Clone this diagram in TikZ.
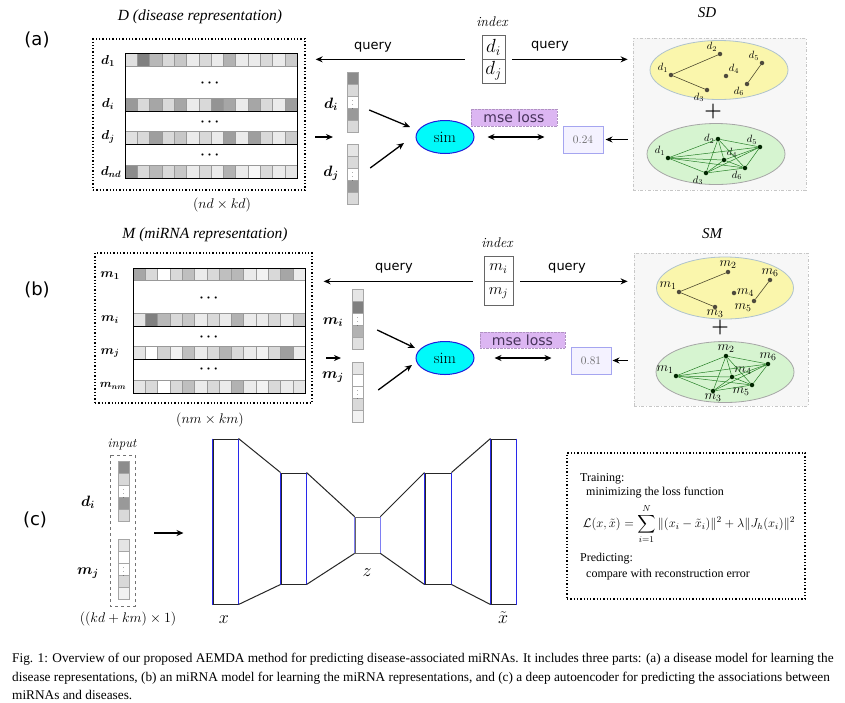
\RequirePackage{fix-cm}
\documentclass[tikz,border=0pt]{standalone}
\usepackage{amsmath,amssymb}
\usepackage{bm}
\usepackage{fontspec}
\newfontfamily\sansf{DejaVu Sans}
\newfontfamily\timesf{Liberation Serif}
\usetikzlibrary{arrows.meta,shapes.geometric}

\definecolor{simfill}{RGB}{0,250,250}
\definecolor{simdraw}{RGB}{30,30,220}
\definecolor{msefill}{RGB}{220,182,242}
\definecolor{msetext}{RGB}{70,50,90}
\definecolor{valfill}{RGB}{244,242,255}
\definecolor{valdraw}{RGB}{165,165,240}
\definecolor{ylwfill}{RGB}{250,246,172}
\definecolor{grnfill}{RGB}{214,244,208}
\definecolor{ellborder}{RGB}{175,195,205}
\definecolor{aeblue}{RGB}{40,40,235}

% one row of a representation matrix (14 cells)
\newcommand{\cellrow}[3]{%
  \foreach \g [count=\k from 0] in {#3}
    \filldraw[fill=black!\g, draw=black!40, line width=0.4pt]
      (#1+\k*12.29, #2) rectangle ++(12.29, 12.5);
}
% a column vector of five cells, the middle one with dots
\newcommand{\vecstack}[4]{%
  \foreach \g [count=\k from 0] in {#4}
    \filldraw[fill=black!\g, draw=black!35, line width=0.4pt]
      (#2-5.5, #3+\k*12) rectangle ++(11, 12);
  \node[inner sep=0, minimum width=11, minimum height=60,
        font=\fontsize{7}{7}\selectfont] (#1) at (#2, #3+30) {$\vdots$};
}

\begin{document}
\begin{tikzpicture}[x=1pt, y=-1pt,
  arr/.style={-{Stealth[length=7pt,width=6pt]}, line width=1.3pt},
  dbl/.style={{Stealth[length=7pt,width=6pt]}-{Stealth[length=7pt,width=6pt]}, line width=1.3pt},
  panel/.style={font=\sansf\fontsize{18}{20}\selectfont},
  title/.style={font=\timesf\itshape\fontsize{15.5}{17}\selectfont},
  qry/.style={font=\sansf\fontsize{13}{15}\selectfont},
  dotbox/.style={draw, dotted, line width=1.3pt, inner sep=0},
  rowlbl/.style={font=\fontsize{13}{14}\selectfont},
  veclbl/.style={font=\fontsize{15}{17}\selectfont},
  dimlbl/.style={font=\fontsize{14}{16}\selectfont},
  idx/.style={draw=black!60, line width=0.7pt, minimum width=23, minimum height=24,
              inner sep=0, font=\fontsize{19}{20}\selectfont},
  idxlbl/.style={font=\itshape\fontsize{14}{16}\selectfont},
  simnode/.style={ellipse, fill=simfill, draw=simdraw, line width=1pt,
                  minimum width=58, minimum height=33, inner sep=0,
                  font=\fontsize{16}{17}\selectfont},
  mse/.style={fill=msefill, draw=msefill!80!black, densely dotted, inner sep=0,
              minimum width=86, minimum height=17, text=msetext,
              font=\sansf\fontsize{14}{16}\selectfont},
  valbox/.style={fill=valfill, draw=valdraw, line width=1pt, minimum width=40,
                 minimum height=27, inner sep=0, text=black!60,
                 font=\fontsize{11.5}{13}\selectfont},
  simbox/.style={fill=black!3, draw=black!22, dash dot, line width=0.8pt, inner sep=0},
  ylw/.style={ellipse, fill=ylwfill, draw=ellborder, line width=0.8pt, inner sep=0},
  grn/.style={ellipse, fill=grnfill, draw=black!35, line width=0.8pt, inner sep=0},
  gdot/.style={circle, fill=black!80!yellow, inner sep=0, minimum size=4.5},
  gdotg/.style={circle, fill=black!85!green, inner sep=0, minimum size=4.5},
  dlbl/.style={font=\fontsize{10.5}{12}\selectfont, inner sep=1pt},
  mlbl/.style={font=\fontsize{13.5}{14}\selectfont, inner sep=0.5pt},
  yedge/.style={draw=black!60!olive, line width=0.6pt},
  gedge/.style={draw=black!50!green!70!gray, line width=0.5pt},
  plussign/.style={font=\bfseries\fontsize{20}{20}\selectfont},
  aelayer/.style={draw=black!85, line width=1pt, inner sep=0},
  aelbl/.style={font=\fontsize{18}{19}\selectfont},
  txt/.style={font=\timesf\fontsize{12}{14}\selectfont, anchor=base west, inner sep=0},
  captxt/.style={font=\timesf\fontsize{13.3}{14}\selectfont, anchor=base west, inner sep=0},
]
\useasboundingbox (0,0) rectangle (845,702);
\fill[white] (0,0) rectangle (845,702);

% ---------------- (a) disease model
\node[panel] (pa) at (37,40) {(a)};
\node[title] (ta) at (200,17) {D (disease representation)};
\node[dotbox, minimum width=212, minimum height=151] (Dbox) at (199,114.5) {};
\cellrow{125}{53.5}{12,50,28,15,22,8,15,8,30,8,8,15,8,20}
\cellrow{125}{98.5}{40,15,35,15,35,8,15,42,35,8,35,15,8,38}
\cellrow{125}{131.5}{12,15,38,15,22,8,15,8,38,8,38,15,8,20}
\cellrow{125}{165.5}{45,15,28,15,22,8,15,8,30,8,3,15,8,10}
\draw[line width=0.9pt] (125,53.5) rectangle (297,178);
\draw[line width=0.9pt] (125,111) -- (297,111) (125,144) -- (297,144);
\foreach \y in {83,122,155}
  \node[font=\fontsize{14}{14}\selectfont] at (211,\y) {$\bm{\cdots}$};
\node[rowlbl] (d1) at (108,61) {$\bm{d_1}$};
\node[rowlbl] (di) at (108,104) {$\bm{d_i}$};
\node[rowlbl] (dj) at (108,137) {$\bm{d_j}$};
\node[rowlbl] (dnd) at (111,172) {$\bm{d_{nd}}$};
\node[dimlbl] (dima) at (222,205) {$(nd\times kd)$};

\node[idxlbl] (ixa) at (492,22) {index};
\node[idx] (ia1) at (493.5,47) {$d_i$};
\node[idx] (ia2) at (493.5,71) {$d_j$};
\node[qry] (qa1) at (373,47) {query};
\node[qry] (qa2) at (550,46) {query};

\vecstack{vdi}{352.5}{72}{45,15,0,40,15}
\vecstack{vdj}{352.5}{144}{10,15,0,40,15}
\node[veclbl] (ldi) at (331,104) {$\bm{d_i}$};
\node[veclbl] (ldj) at (331,173) {$\bm{d_j}$};

\node[simnode] (sima) at (445,137) {sim};
\node[mse] (msea) at (514,117.5) {mse loss};
\node[valbox] (vala) at (583,139.5) {0.24};

% SD graphs
\node[font=\timesf\itshape\fontsize{15}{17}\selectfont] (tsd) at (707,13) {SD};
\node[simbox, minimum width=173, minimum height=152] (SDbox) at (719.5,114) {};
\node[ylw, minimum width=138, minimum height=59] (ya) at (719,70) {};
\node[grn, minimum width=138, minimum height=61] (ga) at (716,154) {};
\node[plussign] (plusa) at (713,112) {+};
\foreach \n/\x/\y/\p in {1/671/75/above left, 2/720/54/above left, 3/707/90/below left,
                         4/726/76/above right, 5/762/63/above left, 6/747/84/below left}
  \node[gdot, label={[dlbl]\p:$d_{\n}$}] (ya\n) at (\x,\y) {};
\draw[yedge] (ya1) -- (ya2) (ya1) -- (ya3) (ya5) -- (ya6);
\foreach \n/\x/\y/\p in {1/668/158/above left, 2/718/139/left, 3/706/173/below left,
                         4/724/160/above right, 5/760/147/above left, 6/745/168/below left}
  \node[gdotg, label={[dlbl]\p:$d_{\n}$}] (ga\n) at (\x,\y) {};
\foreach \a in {1,...,5} {
  \pgfmathtruncatemacro\s{\a+1}
  \foreach \b in {\s,...,6}
    \draw[gedge] (ga\a) -- (ga\b);
}

% connectors (a)
\draw[arr, shorten <=17pt, shorten >=10pt] (ia1.south west) -- (ia1.south west -| Dbox.east);
\draw[arr, shorten <=7pt, shorten >=5pt] (ia1.south east) -- (ia1.south east -| SDbox.west);
\coordinate (fa) at (315,137);
\draw[arr] (fa) -- ++(18,0);
\draw[arr] ([shift={(11,8)}]vdi.east) -- ([shift={(-35,-10)}]sima.center);
\draw[arr] ([shift={(12,-6)}]vdj.east) -- ([shift={(-41,6)}]sima.center);
\draw[dbl, shorten <=13pt, shorten >=18pt] (sima.east) -- (sima.east -| vala.west);
\draw[arr, shorten <=5pt, shorten >=2pt] (vala.east -| SDbox.west) -- (vala.east);

% ---------------- (b) miRNA model
\node[panel] (pb) at (37,290) {(b)};
\node[title] (tb) at (205,235) {M (miRNA representation)};
\node[dotbox, minimum width=217, minimum height=150] (Mbox) at (203.5,328) {};
\cellrow{133}{268}{35,15,0,15,25,8,15,25,28,8,5,15,35,8}
\cellrow{133}{313.5}{10,50,28,15,22,8,15,8,30,8,8,15,8,20}
\cellrow{133}{346.5}{10,0,18,5,25,8,15,30,15,8,5,15,38,8}
\cellrow{133}{380.5}{10,15,0,15,25,8,15,8,30,8,5,15,8,10}
\draw[line width=0.9pt] (133,268) rectangle (305,393);
\draw[line width=0.9pt] (133,326) -- (305,326) (133,359) -- (305,359);
\foreach \y in {298,337,369}
  \node[font=\fontsize{14}{14}\selectfont] at (210,\y) {$\bm{\cdots}$};
\node[rowlbl] (m1) at (110,276) {$\bm{m_1}$};
\node[rowlbl] (mi) at (110,320) {$\bm{m_i}$};
\node[rowlbl] (mj) at (110,353) {$\bm{m_j}$};
\node[rowlbl, font=\fontsize{11.5}{12}\selectfont] (mnm) at (113,386) {$\bm{m_{nm}}$};
\node[dimlbl] (dimb) at (210,420) {$(nm\times km)$};

\node[idxlbl] (ixb) at (497,243) {index};
\node[idx, minimum width=29, minimum height=25, font=\fontsize{16}{18}\selectfont] (ib1) at (498.5,268.5) {$m_i$};
\node[idx, minimum width=29, minimum height=24, font=\fontsize{16}{18}\selectfont] (ib2) at (498.5,293) {$m_j$};
\node[qry] (qb1) at (394,268) {query};
\node[qry] (qb2) at (567,268) {query};

\vecstack{vmi}{357.5}{289}{10,50,0,30,12}
\vecstack{vmj}{357.5}{362}{10,0,0,15,5}
\node[veclbl] (lmi) at (333,322) {$\bm{m_i}$};
\node[veclbl] (lmj) at (333,377) {$\bm{m_j}$};

\node[simnode] (simb) at (445,358) {sim};
\node[mse, minimum width=85, minimum height=16] (mseb) at (522.5,340) {mse loss};
\node[valbox] (valb) at (591,360.5) {0.81};

% SM graphs
\node[font=\timesf\itshape\fontsize{15}{17}\selectfont] (tsm) at (712,234) {SM};
\node[simbox, minimum width=174, minimum height=153] (SMbox) at (721,329.5) {};
\node[ylw, minimum width=137, minimum height=62] (yb) at (725,288) {};
\node[grn, minimum width=138, minimum height=61] (gb) at (725,372) {};
\node[plussign] (plusb) at (720,328) {+};
\foreach \n/\x/\y/\p in {1/679/292/above left, 2/728/272/above, 3/715/307/below,
                         4/734/293/right, 5/754/301/below left, 6/770/280/above}
  \node[gdot, label={[mlbl]\p:$m_{\n}$}] (yb\n) at (\x,\y) {};
\draw[yedge] (yb1) -- (yb2) (yb1) -- (yb3) (yb5) -- (yb6);
\foreach \n/\x/\y/\p in {1/676/376/above left, 2/726/356/above, 3/713/391/below,
                         4/732/377/above right, 5/752/385/below left, 6/768/364/above}
  \node[gdotg, label={[mlbl]\p:$m_{\n}$}] (gb\n) at (\x,\y) {};
\foreach \a in {1,...,5} {
  \pgfmathtruncatemacro\s{\a+1}
  \foreach \b in {\s,...,6}
    \draw[gedge] (gb\a) -- (gb\b);
}

% connectors (b)
\draw[arr, shorten <=11pt, shorten >=11pt] (ib1.south west) -- (ib1.south west -| Mbox.east);
\draw[arr, shorten <=7pt, shorten >=6pt] (ib1.south east) -- (ib1.south east -| SMbox.west);
\coordinate (fb) at (326,358);
\draw[arr] (fb) -- ++(15,0);
\draw[arr] ([shift={(14,11)}]vmi.east) -- ([shift={(-30,-10)}]simb.center);
\draw[arr] ([shift={(15,-2)}]vmj.east) -- ([shift={(-33,7)}]simb.center);
\draw[dbl, shorten <=20pt, shorten >=19pt] (simb.east) -- (simb.east -| valb.west);
\draw[arr, shorten <=6pt, shorten >=1pt] (valb.east -| SMbox.west) -- (valb.east);

% ---------------- (c) autoencoder
\node[panel] (pc) at (35,520) {(c)};
\node[font=\itshape\fontsize{13}{15}\selectfont] (tin) at (122,445) {input};
\draw[black!55, dashed, line width=0.8pt] (110,455) rectangle (135,606);
\coordinate (inE) at (135,533);
\vecstack{cdi}{123.5}{461}{45,15,0,40,15}
\vecstack{cmj}{123.5}{539}{10,0,0,15,5}
\node[veclbl] (lci) at (88,502) {$\bm{d_i}$};
\node[veclbl] (lcj) at (88,573) {$\bm{m_j}$};
\node[dimlbl] (dimc) at (128,619) {$((kd+km)\times 1)$};

\node[aelayer, minimum width=25, minimum height=165] (L1) at (225.5,521.5) {};
\node[aelayer, minimum width=25, minimum height=111] (L2) at (293.5,528.5) {};
\node[aelayer, draw=black!60, line width=0.7pt, minimum width=25, minimum height=36] (Z) at (367.5,535) {};
\node[aelayer, minimum width=26, minimum height=111] (L3) at (438,528.5) {};
\node[aelayer, minimum width=25, minimum height=165] (L4) at (503.5,521.5) {};
\foreach \l in {L1,L2,L4,L3}
  \draw[aeblue, line width=1.1pt] (\l.north west) -- (\l.south west)
                                  (\l.north east) -- (\l.south east);
\draw[aeblue!60, line width=0.6pt] (Z.north west) -- (Z.south west) (Z.north east) -- (Z.south east);
\draw[line width=1pt, black!85] (L1.north east) -- (L2.north west) (L1.south east) -- (L2.south west)
  (L2.north east) -- (Z.north west) (L2.south east) -- (Z.south west)
  (Z.north east) -- (L3.north west) (Z.south east) -- (L3.south west)
  (L3.north east) -- (L4.north west) (L3.south east) -- (L4.south west);
\draw[arr, shorten <=19pt, shorten >=29pt] (inE) -- (inE -| L1.west);
\node[aelbl] (lx) at (224,620) {$x$};
\node[aelbl] (lz) at (367,573) {$z$};
\node[aelbl] (lxt) at (503,618) {$\tilde{x}$};

\node[dotbox, minimum width=238, minimum height=146] (tbox) at (686,526) {};
\node[txt] (t1) at (580,481) {Training:};
\node[txt] (t2) at (586,495) {minimizing the loss function};
\node[font=\fontsize{12.6}{13}\selectfont, inner sep=0] (loss) at (689,524)
  {$\displaystyle \mathcal{L}(x,\tilde{x}) = \sum_{i=1}^{N}\|(x_i-\tilde{x}_i)\|^2 + \lambda\|J_h(x_i)\|^2$};
\node[txt] (t3) at (580,561) {Predicting:};
\node[txt] (t4) at (586,577) {compare with reconstruction error};

% ---------------- caption
\node[captxt] (cap1) at (12,662) {Fig. 1: Overview of our proposed AEMDA method for predicting disease-associated miRNAs. It includes three parts: (a) a disease model for learning the};
\node[captxt] (cap2) at (12,681) {disease representations, (b) an miRNA model for learning the miRNA representations, and (c) a deep autoencoder for predicting the associations between};
\node[captxt] (cap3) at (12,699) {miRNAs and diseases.};
\end{tikzpicture}
\end{document}
